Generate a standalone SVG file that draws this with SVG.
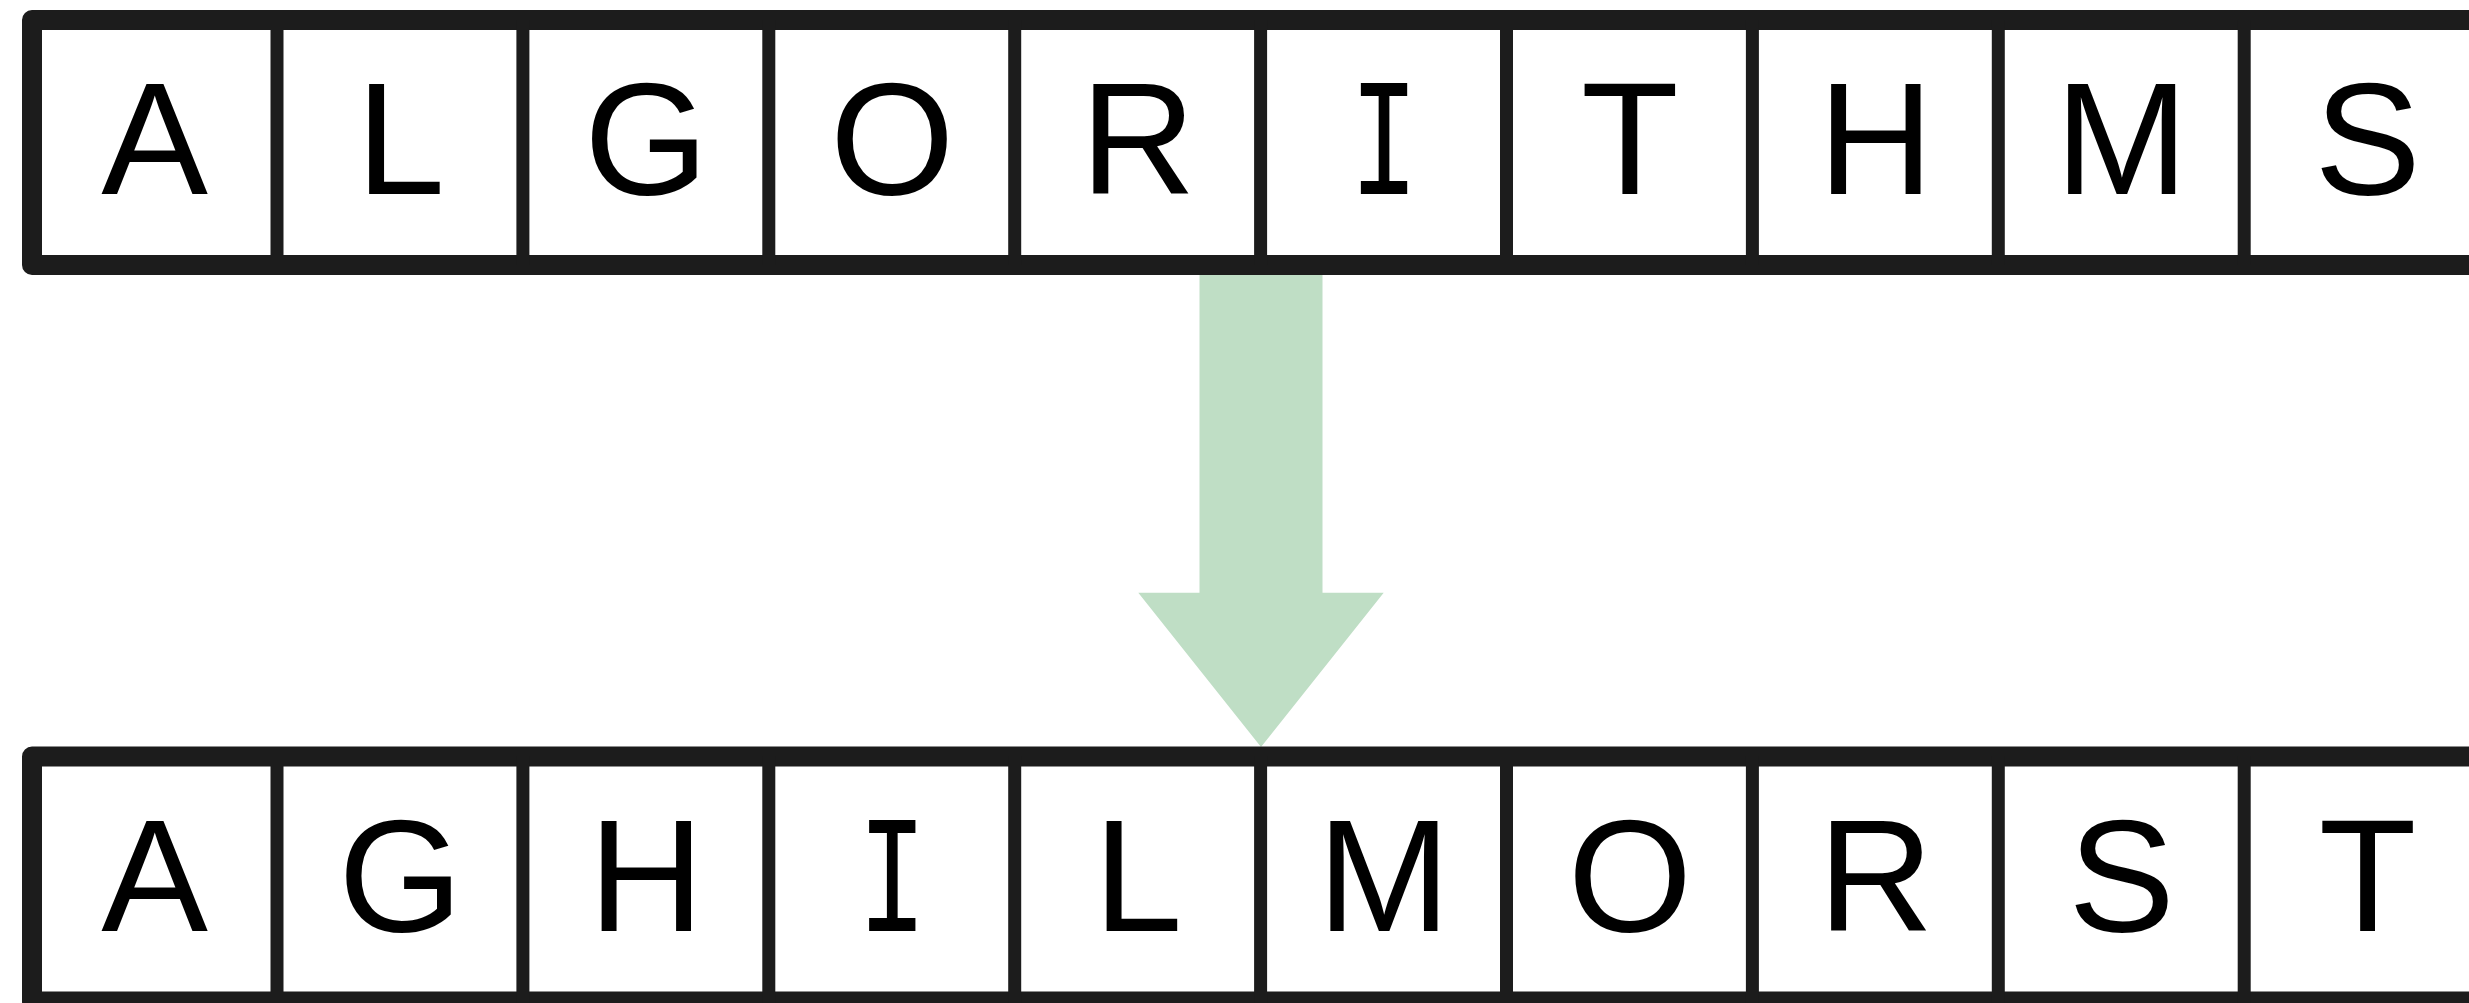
<svg xmlns="http://www.w3.org/2000/svg" width="2469" height="1003" viewBox="0 0 2469 1003">
<style>
.frame{fill:none;stroke:#1c1c1c;stroke-width:20;stroke-linejoin:round}
.div{stroke:#1c1c1c;stroke-width:13}
.ch{font-family:"Liberation Sans","Noto Sans",sans-serif;font-size:160px;fill:#000;text-anchor:middle}
.ci{font-family:"Liberation Mono","DejaVu Sans Mono",monospace;font-size:160px;fill:#000;text-anchor:middle}
.arrow{fill:#bfdec5}
</style>
<rect width="2469" height="1003" fill="#fff"/>
<g id="connectors">
<polygon class="arrow" points="1199.5,272 1322.5,272 1322.5,592.7 1383.7,592.7 1261,747 1138.3,592.7 1199.5,592.7"/>
</g>
<g id="row-input">
<rect class="frame" x="32" y="20" width="2500" height="245"/>
<line class="div" x1="277" y1="20" x2="277" y2="265"/>
<line class="div" x1="522.9" y1="20" x2="522.9" y2="265"/>
<line class="div" x1="768.8" y1="20" x2="768.8" y2="265"/>
<line class="div" x1="1014.7" y1="20" x2="1014.7" y2="265"/>
<line class="div" x1="1260.6" y1="20" x2="1260.6" y2="265"/>
<line class="div" x1="1506.5" y1="20" x2="1506.5" y2="265"/>
<line class="div" x1="1752.4" y1="20" x2="1752.4" y2="265"/>
<line class="div" x1="1998.3" y1="20" x2="1998.3" y2="265"/>
<line class="div" x1="2244.2" y1="20" x2="2244.2" y2="265"/>
<g id="in-0"><text class="ch" x="154.5" y="193.5">A</text></g>
<g id="in-1"><text class="ch" x="400.4" y="193.5">L</text></g>
<g id="in-2"><text class="ch" x="646.3" y="193.5">G</text></g>
<g id="in-3"><text class="ch" x="892.2" y="193.5">O</text></g>
<g id="in-4"><text class="ch" x="1138.1" y="193.5">R</text></g>
<g id="in-5"><text class="ci" transform="translate(1384 193.5) scale(0.72 1.06)">I</text></g>
<g id="in-6"><text class="ch" x="1629.9" y="193.5">T</text></g>
<g id="in-7"><text class="ch" x="1875.8" y="193.5">H</text></g>
<g id="in-8"><text class="ch" x="2121.7" y="193.5">M</text></g>
<g id="in-9"><text class="ch" x="2367.6" y="193.5">S</text></g>
</g>
<g id="row-output">
<rect class="frame" x="32" y="756.5" width="2500" height="245"/>
<line class="div" x1="277" y1="756.5" x2="277" y2="1003"/>
<line class="div" x1="522.9" y1="756.5" x2="522.9" y2="1003"/>
<line class="div" x1="768.8" y1="756.5" x2="768.8" y2="1003"/>
<line class="div" x1="1014.7" y1="756.5" x2="1014.7" y2="1003"/>
<line class="div" x1="1260.6" y1="756.5" x2="1260.6" y2="1003"/>
<line class="div" x1="1506.5" y1="756.5" x2="1506.5" y2="1003"/>
<line class="div" x1="1752.4" y1="756.5" x2="1752.4" y2="1003"/>
<line class="div" x1="1998.3" y1="756.5" x2="1998.3" y2="1003"/>
<line class="div" x1="2244.2" y1="756.5" x2="2244.2" y2="1003"/>
<g id="out-0"><text class="ch" x="154.5" y="931">A</text></g>
<g id="out-1"><text class="ch" x="400.4" y="931">G</text></g>
<g id="out-2"><text class="ch" x="646.3" y="931">H</text></g>
<g id="out-3"><text class="ci" transform="translate(892.2 931) scale(0.72 1.06)">I</text></g>
<g id="out-4"><text class="ch" x="1138.1" y="931">L</text></g>
<g id="out-5"><text class="ch" x="1384" y="931">M</text></g>
<g id="out-6"><text class="ch" x="1629.9" y="931">O</text></g>
<g id="out-7"><text class="ch" x="1875.8" y="931">R</text></g>
<g id="out-8"><text class="ch" x="2121.7" y="931">S</text></g>
<g id="out-9"><text class="ch" x="2367.6" y="931">T</text></g>
</g>
</svg>
